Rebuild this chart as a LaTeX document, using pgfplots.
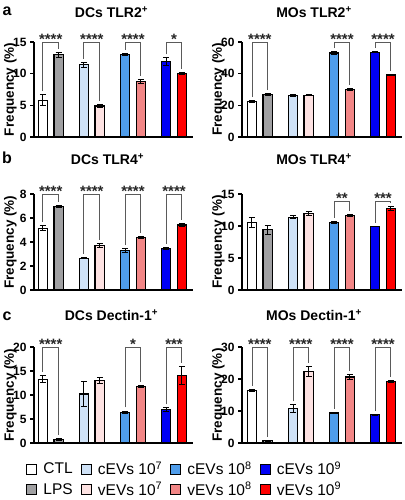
\documentclass[border=0pt]{standalone}
\usepackage{fontspec}
\setmainfont{Liberation Sans}
\usepackage{pgfplots}
\pgfplotsset{compat=1.18}
\definecolor{cCTL}{HTML}{FFFFFF}
\definecolor{cLPS}{HTML}{A0A0A2}
\definecolor{cCseven}{HTML}{CFE2F7}
\definecolor{cVseven}{HTML}{FDE2E2}
\definecolor{cCeight}{HTML}{4F9DEB}
\definecolor{cVeight}{HTML}{F28686}
\definecolor{cCnine}{HTML}{0000F5}
\definecolor{cVnine}{HTML}{FF0000}
\definecolor{brk}{HTML}{5A5A5A}
\pgfplotsset{
  panel/.style={
    scale only axis, width=159pt, height=96pt,
    axis x line=bottom, axis y line=left,
    axis line style={-, line width=1.3pt, black},
    ymin=0, xtick=\empty,
    tick align=outside, major tick length=4pt,
    every tick/.style={black, line width=1.3pt},
    tick label style={font=\bfseries\fontsize{12}{12}\selectfont},
    /pgf/number format/assume math mode=true,
    ylabel={Frequency (\%)},
    every axis y label/.style={at={(axis description cs:-0.148,0.5)}, rotate=90, anchor=center, font=\bfseries\fontsize{13.5}{13.5}\selectfont},
    every axis title/.style={font=\bfseries\fontsize{14}{14}\selectfont, at={(0.5,1)}, anchor=center},
    clip=false,
  },
  mybar/.style={ybar, bar width=0.6, bar shift=0pt, draw=black, line width=1.2pt, forget plot,
    error bars/y dir=both, error bars/y explicit,
    error bars/error bar style={line width=1pt, black},
    error bars/error mark options={rotate=90, mark size=3pt, line width=1pt, black}},
  brack/.style={draw=brk, line width=0.9pt, mark=none, sharp plot, forget plot},
  sq/.style={legend image code/.code={\draw[draw=black,line width=1.2pt,fill=#1] (0pt,-5pt) rectangle (10pt,5pt);}},
}
\tikzset{stars/.style={anchor=base, yshift=-2.5pt, text=black!85, font=\bfseries\fontsize{15}{15}\selectfont, inner sep=0pt}}
\begin{document}
\begin{tikzpicture}
\path[use as bounding box] (0pt,0pt) rectangle (404pt,500pt);
\node[font=\bfseries\fontsize{16}{16}\selectfont] at (7pt,489pt) {a};
\node[font=\bfseries\fontsize{16}{16}\selectfont] at (7pt,342pt) {b};
\node[font=\bfseries\fontsize{16}{16}\selectfont] at (7pt,184pt) {c};

% ---------- a left: DCs TLR2 ----------
\begin{axis}[panel, at={(34pt,363pt)}, anchor=south west, height=95pt, ymax=15, ytick={0,5,10,15},
  xmin=-0.56, xmax=9.5, title={DCs TLR2\textsuperscript{+}}, title style={yshift=30pt, xshift=-2pt}]
\addplot[mybar, fill=cCTL] coordinates {(0,5.8) +- (0,0.9)};
\addplot[mybar, fill=cLPS] coordinates {(1,13.0) +- (0,0.4)};
\addplot[mybar, fill=cCseven] coordinates {(2.6,11.4) +- (0,0.4)};
\addplot[mybar, fill=cVseven] coordinates {(3.6,4.9) +- (0,0.3)};
\addplot[mybar, fill=cCeight] coordinates {(5.2,13.0) +- (0,0.2)};
\addplot[mybar, fill=cVeight] coordinates {(6.2,8.8) +- (0,0.3)};
\addplot[mybar, fill=cCnine] coordinates {(7.8,11.9) +- (0,0.6)};
\addplot[mybar, fill=cVnine] coordinates {(8.8,10.0) +- (0,0.2)};
\addplot[brack] coordinates {(0,7.25) (0,15) (1,15) (1,13.95)};
\addplot[brack] coordinates {(2.6,12.35) (2.6,15) (3.6,15) (3.6,5.75)};
\addplot[brack] coordinates {(5.2,13.75) (5.2,15) (6.2,15) (6.2,9.65)};
\addplot[brack] coordinates {(7.8,13.05) (7.8,15) (8.8,15) (8.8,10.75)};
\node[stars] at (axis cs:0.5,15) {****};
\node[stars] at (axis cs:3.1,15) {****};
\node[stars] at (axis cs:5.7,15) {****};
\node[stars] at (axis cs:8.3,15) {*};
\end{axis}

% ---------- a right: MOs TLR2 ----------
\begin{axis}[panel, at={(242pt,363pt)}, anchor=south west, height=95pt, width=160pt, ymax=60, ytick={0,20,40,60},
  xmin=-0.63, xmax=9.5, title={MOs TLR2\textsuperscript{+}}, title style={yshift=30pt, xshift=-8pt}]
\addplot[mybar, fill=cCTL] coordinates {(0,22.5) +- (0,0.5)};
\addplot[mybar, fill=cLPS] coordinates {(1,26.9) +- (0,0.5)};
\addplot[mybar, fill=cCseven] coordinates {(2.6,26.2) +- (0,0.4)};
\addplot[mybar, fill=cVseven] coordinates {(3.6,26.4) +- (0,0.3)};
\addplot[mybar, fill=cCeight] coordinates {(5.2,53.0) +- (0,1.0)};
\addplot[mybar, fill=cVeight] coordinates {(6.2,30.0) +- (0,0.5)};
\addplot[mybar, fill=cCnine] coordinates {(7.8,53.6) +- (0,0.5)};
\addplot[mybar, fill=cVnine] coordinates {(8.8,39.2) +- (0,0.4)};
\addplot[brack] coordinates {(0,25.2) (0,60) (1,60) (1,29.6)};
\addplot[brack] coordinates {(5.2,56.2) (5.2,60) (6.2,60) (6.2,32.7)};
\addplot[brack] coordinates {(7.8,56.3) (7.8,60) (8.8,60) (8.8,41.8)};
\node[stars] at (axis cs:0.5,60) {****};
\node[stars] at (axis cs:5.7,60) {****};
\node[stars] at (axis cs:8.3,60) {****};
\end{axis}

% ---------- b left: DCs TLR4 ----------
\begin{axis}[panel, at={(34pt,210pt)}, anchor=south west, ymax=8, ytick={0,2,4,6,8},
  xmin=-0.56, xmax=9.5, title={DCs TLR4\textsuperscript{+}}, title style={yshift=35pt, xshift=-6pt}]
\addplot[mybar, fill=cCTL] coordinates {(0,5.15) +- (0,0.2)};
\addplot[mybar, fill=cLPS] coordinates {(1,6.93) +- (0,0.08)};
\addplot[mybar, fill=cCseven] coordinates {(2.6,2.65) +- (0,0.05)};
\addplot[mybar, fill=cVseven] coordinates {(3.6,3.72) +- (0,0.15)};
\addplot[mybar, fill=cCeight] coordinates {(5.2,3.27) +- (0,0.17)};
\addplot[mybar, fill=cVeight] coordinates {(6.2,4.37) +- (0,0.12)};
\addplot[mybar, fill=cCnine] coordinates {(7.8,3.47) +- (0,0.07)};
\addplot[mybar, fill=cVnine] coordinates {(8.8,5.42) +- (0,0.15)};
\addplot[brack] coordinates {(0,5.65) (0,8) (1,8) (1,7.3)};
\addplot[brack] coordinates {(2.6,3.0) (2.6,8) (3.6,8) (3.6,4.17)};
\addplot[brack] coordinates {(5.2,3.74) (5.2,8) (6.2,8) (6.2,4.79)};
\addplot[brack] coordinates {(7.8,3.84) (7.8,8) (8.8,8) (8.8,5.87)};
\node[stars] at (axis cs:0.5,8) {****};
\node[stars] at (axis cs:3.1,8) {****};
\node[stars] at (axis cs:5.7,8) {****};
\node[stars] at (axis cs:8.3,8) {****};
\end{axis}

% ---------- b right: MOs TLR4 ----------
\begin{axis}[panel, at={(242pt,210pt)}, anchor=south west, width=160pt, ymax=15, ytick={0,5,10,15},
  xmin=-0.63, xmax=9.5, title={MOs TLR4\textsuperscript{+}}, title style={yshift=35pt, xshift=-8pt}]
\addplot[mybar, fill=cCTL] coordinates {(0,10.6) +- (0,0.8)};
\addplot[mybar, fill=cLPS] coordinates {(1,9.4) +- (0,0.7)};
\addplot[mybar, fill=cCseven] coordinates {(2.6,11.35) +- (0,0.25)};
\addplot[mybar, fill=cVseven] coordinates {(3.6,11.9) +- (0,0.3)};
\addplot[mybar, fill=cCeight] coordinates {(5.2,10.55) +- (0,0.2)};
\addplot[mybar, fill=cVeight] coordinates {(6.2,11.65) +- (0,0.2)};
\addplot[mybar, fill=cCnine] coordinates {(7.8,9.93) +- (0,0.05)};
\addplot[mybar, fill=cVnine] coordinates {(8.8,12.75) +- (0,0.3)};
\addplot[brack] coordinates {(5.2,11.3) (5.2,13.9) (6.2,13.9) (6.2,12.4)};
\addplot[brack] coordinates {(7.8,10.5) (7.8,13.9) (8.8,13.9) (8.8,13.6)};
\node[stars] at (axis cs:5.7,13.9) {**};
\node[stars] at (axis cs:8.3,13.9) {***};
\end{axis}

% ---------- c left: DCs Dectin-1 ----------
\begin{axis}[panel, at={(34pt,57pt)}, anchor=south west, ymax=20, ytick={0,5,10,15,20},
  xmin=-0.56, xmax=9.5, title={DCs Dectin-1\textsuperscript{+}}, title style={yshift=32pt, xshift=-2pt},
  legend columns=4, legend cell align=left,
  legend style={draw=none, fill=none, at={(axis description cs:-0.05,-0.175)}, anchor=north west,
    font=\fontsize{15.5}{15.5}\selectfont, inner sep=0pt, row sep=2pt,
    /tikz/every odd column/.append style={column sep=4pt},
    /tikz/every even column/.append style={column sep=6pt}}]
\addlegendimage{sq=cCTL}\addlegendentry{CTL}
\addlegendimage{sq=cCseven}\addlegendentry{cEVs 10\textsuperscript{7}}
\addlegendimage{sq=cCeight}\addlegendentry{cEVs 10\textsuperscript{8}}
\addlegendimage{sq=cCnine}\addlegendentry{cEVs 10\textsuperscript{9}}
\addlegendimage{sq=cLPS}\addlegendentry{LPS}
\addlegendimage{sq=cVseven}\addlegendentry{vEVs 10\textsuperscript{7}}
\addlegendimage{sq=cVeight}\addlegendentry{vEVs 10\textsuperscript{8}}
\addlegendimage{sq=cVnine}\addlegendentry{vEVs 10\textsuperscript{9}}
\addplot[mybar, fill=cCTL] coordinates {(0,13.3) +- (0,0.8)};
\addplot[mybar, fill=cLPS] coordinates {(1,0.7) +- (0,0.15)};
\addplot[mybar, fill=cCseven] coordinates {(2.6,10.2) +- (0,2.6)};
\addplot[mybar, fill=cVseven] coordinates {(3.6,13.0) +- (0,0.7)};
\addplot[mybar, fill=cCeight] coordinates {(5.2,6.4) +- (0,0.25)};
\addplot[mybar, fill=cVeight] coordinates {(6.2,11.7) +- (0,0.2)};
\addplot[mybar, fill=cCnine] coordinates {(7.8,6.9) +- (0,0.4)};
\addplot[mybar, fill=cVnine] coordinates {(8.8,14.0) +- (0,1.9)};
\addplot[brack] coordinates {(0,14.85) (0,20) (1,20) (1,1.6)};
\addplot[brack] coordinates {(5.2,7.4) (5.2,20) (6.2,20) (6.2,12.65)};
\addplot[brack] coordinates {(7.8,8.05) (7.8,20) (8.8,20) (8.8,16.65)};
\node[stars] at (axis cs:0.5,20) {****};
\node[stars] at (axis cs:5.7,20) {*};
\node[stars] at (axis cs:8.3,20) {***};
\end{axis}

% ---------- c right: MOs Dectin-1 ----------
\begin{axis}[panel, at={(242pt,57pt)}, anchor=south west, width=160pt, ymax=30, ytick={0,10,20,30},
  xmin=-0.63, xmax=9.5, title={MOs Dectin-1\textsuperscript{+}}, title style={yshift=32pt, xshift=-8pt}]
\addplot[mybar, fill=cCTL] coordinates {(0,16.5) +- (0,0.3)};
\addplot[mybar, fill=cLPS] coordinates {(1,0.7) +- (0,0.2)};
\addplot[mybar, fill=cCseven] coordinates {(2.6,10.7) +- (0,1.2)};
\addplot[mybar, fill=cVseven] coordinates {(3.6,22.4) +- (0,1.5)};
\addplot[mybar, fill=cCeight] coordinates {(5.2,9.4) +- (0,0.2)};
\addplot[mybar, fill=cVeight] coordinates {(6.2,20.6) +- (0,0.7)};
\addplot[mybar, fill=cCnine] coordinates {(7.8,8.8) +- (0,0.2)};
\addplot[mybar, fill=cVnine] coordinates {(8.8,19.2) +- (0,0.3)};
\addplot[brack] coordinates {(0,17.9) (0,30) (1,30) (1,2.0)};
\addplot[brack] coordinates {(2.6,13.0) (2.6,30) (3.6,30) (3.6,25.0)};
\addplot[brack] coordinates {(5.2,10.7) (5.2,30) (6.2,30) (6.2,22.4)};
\addplot[brack] coordinates {(7.8,10.1) (7.8,30) (8.8,30) (8.8,20.6)};
\node[stars] at (axis cs:0.5,30) {****};
\node[stars] at (axis cs:3.1,30) {****};
\node[stars] at (axis cs:5.7,30) {****};
\node[stars] at (axis cs:8.3,30) {****};
\end{axis}
\end{tikzpicture}
\end{document}
